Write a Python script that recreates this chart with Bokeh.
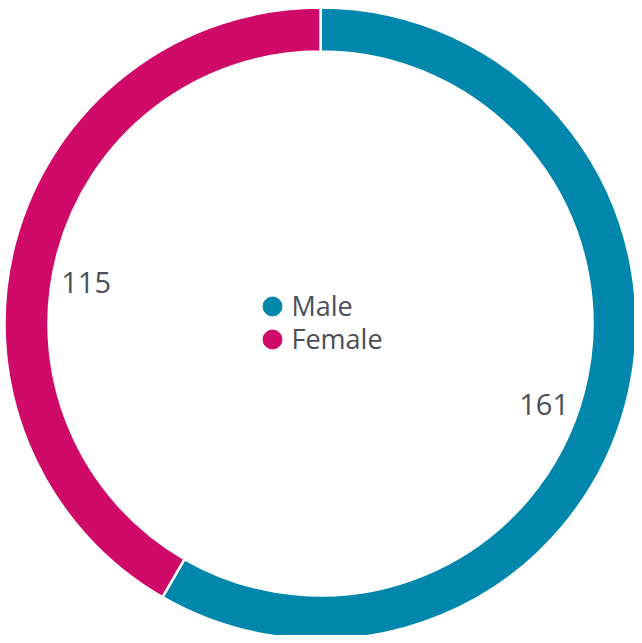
import math
import numpy as np
from bokeh.plotting import figure
from bokeh.models import ColumnDataSource
from bokeh.core.properties import value
from bokeh.embed import file_html
from bokeh.resources import INLINE

categories = ["Male", "Female"]
counts = [161, 115]
colors = ["#0087ab", "#cf0a69"]

W, H = 634, 635
cx, cy = 320, 323  # centre in frame pixels from left / from top
p = figure(width=W, height=H, output_backend="svg", toolbar_location=None,
           x_range=(-cx, W - cx), y_range=(-(H - cy), cy),
           min_border=0, outline_line_color=None)
p.axis.visible = False
p.grid.visible = False
p.background_fill_color = "white"
p.border_fill_color = "white"

total = sum(counts)
fr = np.array(counts) / total
ends_cum = np.cumsum(fr)
starts_cum = ends_cum - fr
start_angles = [math.pi / 2 - 2 * math.pi * s for s in starts_cum]
end_angles = [math.pi / 2 - 2 * math.pi * e for e in ends_cum]

src = ColumnDataSource(dict(x=[0] * len(counts), y=[0] * len(counts),
                            start=start_angles, end=end_angles, color=colors,
                            cat=categories))
p.annular_wedge(x="x", y="y", inner_radius=272, outer_radius=316,
                start_angle="start", end_angle="end", direction="clock",
                fill_color="color", line_color="white", line_width=2.5, source=src)

# value labels
shift = [-5, 5]
lx, ly = [], []
for s, e, sh in zip(start_angles, end_angles, shift):
    m = (s + e) / 2 + math.radians(sh)
    lx.append(238 * math.cos(m))
    ly.append(238 * math.sin(m))
p.text(x=lx, y=ly, text=[str(c) for c in counts], text_align="center",
       text_baseline="middle", text_font=value("Open Sans"),
       text_font_size="29px", text_color="#4a4f5a")

# legend (centre of the ring)
leg_x = -48
leg_y = [17, -16]
p.scatter(x=[leg_x] * len(categories), y=leg_y, size=19, marker="circle",
          fill_color=colors, line_color=colors)
p.text(x=[leg_x + 19] * len(categories), y=[v + 1 for v in leg_y],
       text=categories, text_align="left", text_baseline="middle",
       text_font=value("Open Sans"), text_font_size="27px", text_color="#4a4f5a")

open("out.html", "w").write(file_html(p, INLINE))
